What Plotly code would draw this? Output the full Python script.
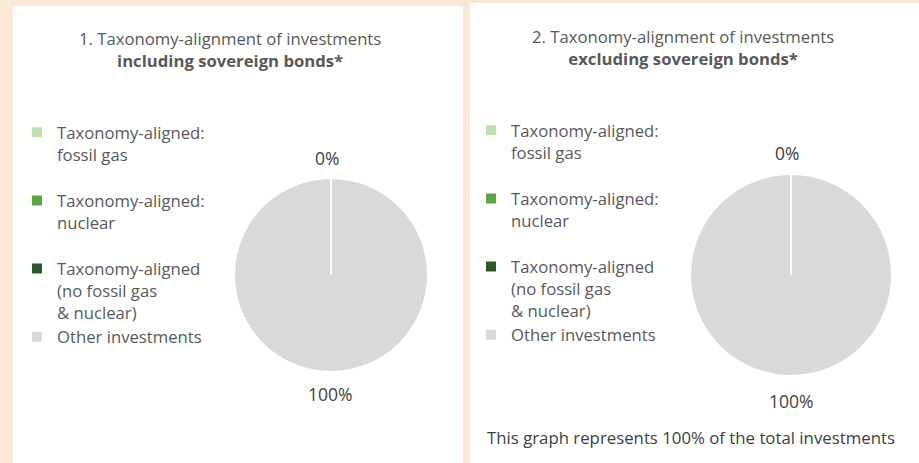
import plotly.graph_objects as go

W, H = 919, 463

labels = [
    "Taxonomy-aligned:<br>fossil gas",
    "Taxonomy-aligned:<br>nuclear",
    "Taxonomy-aligned<br>(no fossil gas<br>& nuclear)",
    "Other investments",
]
colors = ["#bfe0ae", "#55a844", "#285a28", "#d9d9d9"]
incl_values = [0, 0, 0, 100]
excl_values = [0, 0, 0, 100]
titles = [
    "1. Taxonomy-alignment of investments<br><b>including sovereign bonds*</b>",
    "2. Taxonomy-alignment of investments<br><b>excluding sovereign bonds*</b>",
]
footer = "This graph represents 100% of the total investments"

FONT = "Open Sans"
GREY = "#595959"
DARK = "#404040"
BEIGE = "#fbe8d7"


def px_x(v):
    return v / W


def px_y(v):
    return 1 - v / H


# pie geometry (pixels): center x, center y, radius
pies = [(331, 275, 97), (791, 275, 101)]

# legend entries: extra spacing after the first two entries, as in the original layout;
# second chart gets an invisible suffix so its own legend is kept separate
legend_labels = [labels[0] + "<br> ", labels[1] + "<br> "] + labels[2:]
label_sets = [legend_labels, [l + "\u200b" for l in legend_labels]]

fig = go.Figure()
for i, (vals, (cx, cy, r)) in enumerate(zip([incl_values, excl_values], pies)):
    fig.add_trace(go.Pie(
        labels=label_sets[i],
        values=vals,
        customdata=labels,
        sort=False,
        direction="clockwise",
        rotation=0,
        marker=dict(colors=colors, line=dict(color="white", width=2)),
        textinfo="none",
        hovertemplate="%{customdata}: %{percent}<extra></extra>",
        domain=dict(x=[px_x(cx - r), px_x(cx + r)], y=[px_y(cy + r), px_y(cy - r)]),
        showlegend=True,
        legend="legend" if i == 0 else "legend2",
        name=["Including sovereign bonds", "Excluding sovereign bonds"][i],
    ))

shapes = [
    dict(type="rect", xref="paper", yref="paper", x0=px_x(13), x1=px_x(463), y0=0, y1=px_y(6),
         fillcolor="white", line=dict(width=0), layer="below"),
    dict(type="rect", xref="paper", yref="paper", x0=px_x(470), x1=1, y0=0, y1=px_y(3),
         fillcolor="white", line=dict(width=0), layer="below"),
]
# white radial line at 12 o'clock (boundary of zero-valued slices)
for cx, cy, r in pies:
    shapes.append(dict(type="line", xref="paper", yref="paper",
                       x0=px_x(cx), x1=px_x(cx), y0=px_y(cy), y1=px_y(cy - r),
                       line=dict(color="white", width=2), layer="above"))

annotations = []
title_pos = [(230, 50), (683, 47.5)]
for t, (tx, ty) in zip(titles, title_pos):
    annotations.append(dict(text=t, x=px_x(tx), y=px_y(ty), xref="paper", yref="paper",
                            showarrow=False, xanchor="center", yanchor="middle",
                            font=dict(family=FONT, size=16.7, color=GREY)))

label_pos = [((327, 158), (330, 394)), ((787, 153), (791, 401))]
for vals, (top, bot) in zip([incl_values, excl_values], label_pos):
    total = sum(vals)
    aligned = round(100 * sum(vals[:3]) / total)
    other = round(100 * vals[3] / total)
    annotations.append(dict(text=f"{aligned}%", x=px_x(top[0]), y=px_y(top[1]), xref="paper", yref="paper",
                            showarrow=False, xanchor="center", yanchor="middle",
                            font=dict(family=FONT, size=17.5, color=DARK)))
    annotations.append(dict(text=f"{other}%", x=px_x(bot[0]), y=px_y(bot[1]), xref="paper", yref="paper",
                            showarrow=False, xanchor="center", yanchor="middle",
                            font=dict(family=FONT, size=17.5, color=DARK)))

annotations.append(dict(text=footer, x=px_x(485), y=px_y(437), xref="paper", yref="paper",
                        showarrow=False, xanchor="left", yanchor="middle",
                        font=dict(family=FONT, size=16.8, color=DARK)))

legend_style = dict(font=dict(family=FONT, size=16.7, color=GREY), bgcolor="rgba(0,0,0,0)",
                    borderwidth=0, xanchor="left", yanchor="top", itemclick=False,
                    itemdoubleclick=False, valign="top")

fig.update_layout(
    width=W, height=H,
    margin=dict(l=0, r=0, t=0, b=0),
    paper_bgcolor=BEIGE,
    plot_bgcolor=BEIGE,
    font=dict(family=FONT),
    shapes=shapes,
    annotations=annotations,
    legend=dict(x=px_x(17), y=px_y(115), **legend_style),
    legend2=dict(x=px_x(471), y=px_y(113), **legend_style),
)

fig.write_html("out.html")
